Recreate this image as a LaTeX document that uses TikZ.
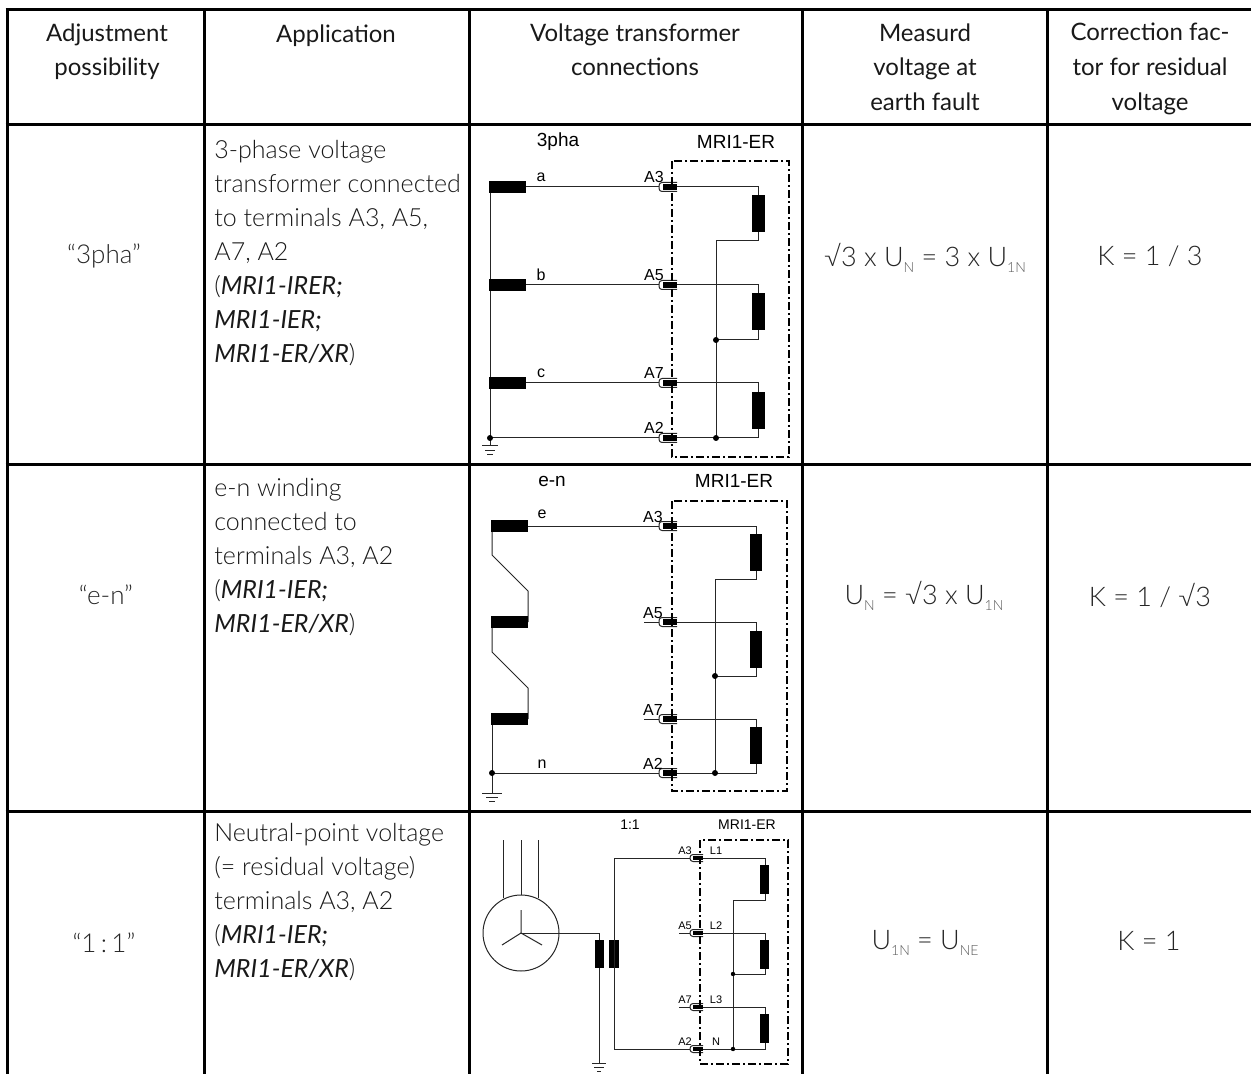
\documentclass[tikz,border=0pt]{standalone}
\usepackage{fontspec}
\setmainfont{Lato}[UprightFont=* Light,ItalicFont=* Italic]
\newfontfamily\headfont{Lato}
\newfontfamily\arialfont{Liberation Sans}
\newcommand{\lowtext}[1]{\raisebox{-0.45ex}{\fontsize{7}{7}\selectfont\color{black!65}#1}}
\tikzset{
    tableline/.style = {line width=1.5pt},
    wire/.style = {line width=0.5pt, black!85},
    boxline/.style = {line width=0.95pt, dash pattern=on 4pt off 1.5pt on 1pt off 1.5pt},
    headtext/.style = {anchor=north, align=center, inner sep=0pt, black!90, font=\fontsize{12}{17.3}\selectfont\headfont, execute at begin node=\strut},
    bodytext/.style = {anchor=north west, align=left, inner sep=0pt, black!90, font=\fontsize{12.5}{17}\selectfont, execute at begin node=\strut},
    celltext/.style = {inner sep=0pt, black!85, font=\fontsize{13.5}{17}\selectfont},
    bigtag/.style = {inner sep=0pt, font=\fontsize{9.5}{10}\selectfont\arialfont},
    tag/.style = {inner sep=0pt, font=\fontsize{8}{9}\selectfont\arialfont},
    smalltag/.style = {inner sep=0pt, font=\fontsize{5.5}{7}\selectfont\arialfont},
    dotnode/.style = {circle, fill=black, inner sep=0pt, minimum size=3pt},
}
% plug at the box edge: x, y, half height
\newcommand{\plug}[3]{
    \draw[wire, fill=white, rounded corners=1.5pt] ({#1+18},{#2-#3}) -- ({#1},{#2-#3}) -- ({#1},{#2+#3}) -- ({#1+18},{#2+#3});
    \fill ({#1+4},{#2-#3+1.2}) rectangle ({#1+18},{#2+#3-1.2});
}
% earth symbol: x, y, half widths
\newcommand{\earth}[5]{
    \draw[wire] ({#1-#3},#2) -- ({#1+#3},#2);
    \draw[wire] ({#1-#4},{#2+4}) -- ({#1+#4},{#2+4});
    \draw[wire] ({#1-#5},{#2+8}) -- ({#1+#5},{#2+8});
}
\begin{document}
\begin{tikzpicture}[x=0.5pt,y=-0.5pt]
    \useasboundingbox (0,0) rectangle (1251,1074);
    % table
    \foreach \x in {7,204,469,802,1047}
        {\draw[tableline] (\x,8.5) -- (\x,1074);}
    \foreach \y in {10,125,464,811}
        {\draw[tableline] (5.5,\y) -- (1251,\y);}
    % head row
    \node[headtext] (headadjust) at (107,23) {Adjustment\\possibility};
    \node[headtext] (headapp) at (336,18) {Application};
    \node[headtext] (headvt) at (635,23) {Voltage transformer\\connections};
    \node[headtext] (headmeas) at (925,23) {Measurd\\voltage at\\earth fault};
    \node[headtext] (headcorr) at (1150,23) {Correction fac-\\tor for residual\\voltage};
    % first column
    \node[celltext, font=\fontsize{13}{17}\selectfont] (set3pha) at (104,256) {``3pha''};
    \node[celltext, font=\fontsize{13}{17}\selectfont] (seten) at (106,595) {``e-n''};
    \node[celltext, font=\fontsize{13}{17}\selectfont] (setone) at (104,943) {``1\,:\,1''};
    % application column
    \node[bodytext] (app3pha) at (214,140) {3-phase voltage\\transformer connected\\to terminals A3, A5,\\A7, A2\\(\textit{MRI1-IRER;}\\\textit{MRI1-IER;}\\\textit{MRI1-ER/XR})};
    \node[bodytext] (appen) at (214,478) {e-n winding\\connected to\\terminals A3, A2\\(\textit{MRI1-IER;}\\\textit{MRI1-ER/XR})};
    \node[bodytext] (appone) at (214,823) {Neutral-point voltage\\(= residual voltage)\\terminals A3, A2\\(\textit{MRI1-IER;}\\\textit{MRI1-ER/XR})};
    % measured voltage and factor
    \node[celltext] (meas3pha) at (925,258) {√3 x U\lowtext{N} = 3 x U\lowtext{1N}};
    \node[celltext] (measen) at (924,596) {U\lowtext{N} = √3 x U\lowtext{1N}};
    \node[celltext] (measone) at (925,943) {U\lowtext{1N} = U\lowtext{NE}};
    \node[celltext] (corr3pha) at (1150,256) {K = 1 / 3};
    \node[celltext] (corren) at (1150,595) {K = 1 / √3};
    \node[celltext] (corrone) at (1149,941) {K = 1};

    % 3pha connection
    \node[bigtag] (titlea) at (558,142) {3pha};
    \node[bigtag] (relaya) at (736,142) {MRI1-ER};
    \draw[wire] (490,187) -- (490,446);
    \earth{490}{446}{8}{5}{3}
    \foreach \y/\w in {187/a,285/b,383/c}
    {
        \fill (489,{\y-6}) rectangle (526,{\y+6});
        \draw[wire] (526,\y) -- (660,\y);
        \node[tag] (wind\w) at (541,{\y-10}) {\w};
    }
    \draw[wire] (490,438) -- (660,438);
    \foreach \y/\n in {187/3,285/5,383/7,438/2}
    {
        \plug{659}{\y}{4.5}
        \node[tag] (terma\n) at (654,{\y-10}) {A\n};
    }
    \draw[wire] (677,187) -- (758,187) -- (758,241) -- (716,241) -- (716,438);
    \draw[wire] (677,285) -- (758,285) -- (758,340) -- (716,340);
    \draw[wire] (677,383) -- (758,383) -- (758,438) -- (677,438);
    \foreach \y in {195,293,392}
        {\fill (752,\y) rectangle (765,{\y+37});}
    \node[dotnode] (dota1) at (490,438) {};
    \node[dotnode] (dota2) at (716,340) {};
    \node[dotnode] (dota3) at (716,438) {};
    \draw[boxline] (672,161) rectangle (789,457);

    % e-n connection
    \node[bigtag] (titleb) at (552,481) {e-n};
    \node[bigtag] (relayb) at (734,481) {MRI1-ER};
    \draw[wire] (492,526) -- (492,555) -- (528,591) -- (528,622);
    \draw[wire] (492,622) -- (492,652) -- (528,688) -- (528,719);
    \draw[wire] (492,719) -- (492,793);
    \earth{492}{793}{10}{6}{3}
    \foreach \y in {526,622,719}
        {\fill (491,{\y-6}) rectangle (528,{\y+6});}
    \draw[wire] (528,526) -- (660,526);
    \draw[wire] (492,773) -- (660,773);
    \draw[wire] (644,622) -- (660,622);
    \draw[wire] (644,719) -- (660,719);
    \node[tag] (winde) at (542,514) {e};
    \node[tag] (windn) at (542,764) {n};
    \foreach \y/\n in {526/3,622/5,719/7,773/2}
    {
        \plug{659}{\y}{4.5}
        \node[tag] (termb\n) at (653,{\y-9}) {A\n};
    }
    \draw[wire] (677,526) -- (756,526) -- (756,579) -- (715,579) -- (715,773);
    \draw[wire] (677,622) -- (756,622) -- (756,676) -- (715,676);
    \draw[wire] (677,719) -- (756,719) -- (756,773) -- (677,773);
    \foreach \y in {534,631,727}
        {\fill (750,\y) rectangle (762,{\y+37});}
    \node[dotnode] (dotb1) at (492,773) {};
    \node[dotnode] (dotb2) at (715,676) {};
    \node[dotnode] (dotb3) at (715,773) {};
    \draw[boxline] (672,501) rectangle (787,791);

    % 1:1 connection
    \node[smalltag, font=\fontsize{7}{8}\selectfont\arialfont] (titlec) at (630,825) {1:1};
    \node[smalltag, font=\fontsize{7}{8}\selectfont\arialfont] (relayc) at (747,825) {MRI1-ER};
    \foreach \x/\y in {503/898,521/895,538/898}
        {\draw[wire] (\x,840) -- (\x,\y);}
    \draw[wire] (521,933) circle (38);
    \draw[wire] (521,910) -- (521,933) -- (502,945);
    \draw[wire] (521,933) -- (542,945);
    \draw[wire] (521,933) -- (599,933) -- (599,1063);
    \earth{599}{1063}{7}{5}{2}
    \fill (595,940) rectangle (604,968);
    \fill (609,940) rectangle (619,968);
    \draw[wire] (691,858) -- (614,858) -- (614,1049) -- (691,1049);
    \draw[wire] (679,933) -- (691,933);
    \draw[wire] (679,1007) -- (691,1007);
    \foreach \y/\n in {858/3,933/5,1007/7,1049/2}
    {
        \draw[wire, fill=white, rounded corners=1.5pt] (703,{\y-3.5}) -- (690,{\y-3.5}) -- (690,{\y+3.5}) -- (703,{\y+3.5});
        \fill (693,{\y-2.4}) rectangle (703,{\y+2.4});
        \node[smalltag] (termc\n) at (685,{\y-7}) {A\n};
    }
    \foreach \y/\n in {858/L1,933/L2,1007/L3,1049/N}
        {\node[smalltag] (line\n) at (716,{\y-7}) {\n};}
    \draw[wire] (703,858) -- (765,858) -- (765,900) -- (733,900) -- (733,1049);
    \draw[wire] (703,933) -- (765,933) -- (765,974) -- (733,974);
    \draw[wire] (703,1007) -- (765,1007) -- (765,1049) -- (703,1049);
    \foreach \y in {865,940,1014}
        {\fill (760,\y) rectangle (769,{\y+29});}
    \node[dotnode, minimum size=2.2pt] (dotc1) at (733,974) {};
    \node[dotnode, minimum size=2.2pt] (dotc2) at (733,1049) {};
    \draw[boxline, line width=0.8pt] (700,840) rectangle (788,1064);
\end{tikzpicture}
\end{document}
